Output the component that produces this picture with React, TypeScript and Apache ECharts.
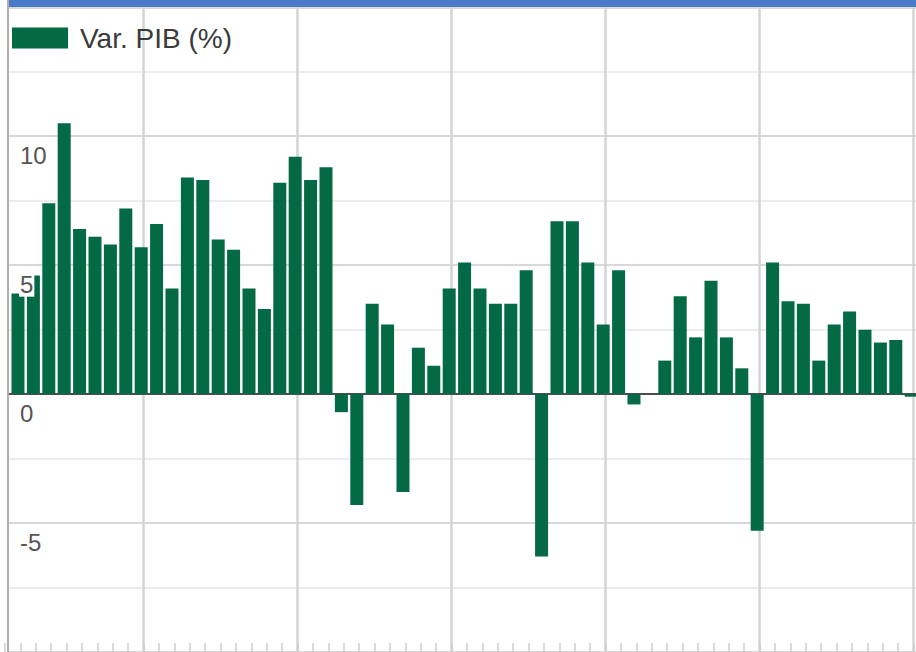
import React, { useEffect, useRef } from "react";
import * as echarts from "echarts";

// ---- data ----
const years = [
  1961, 1962, 1963, 1964, 1965, 1966, 1967, 1968, 1969, 1970,
  1971, 1972, 1973, 1974, 1975, 1976, 1977, 1978, 1979, 1980,
  1981, 1982, 1983, 1984, 1985, 1986, 1987, 1988, 1989, 1990,
  1991, 1992, 1993, 1994, 1995, 1996, 1997, 1998, 1999, 2000,
  2001, 2002, 2003, 2004, 2005, 2006, 2007, 2008, 2009, 2010,
  2011, 2012, 2013, 2014, 2015, 2016, 2017, 2018, 2019,
];
const gdpGrowth = [
  3.9, 4.6, 7.4, 10.5, 6.4, 6.1, 5.8, 7.2, 5.7, 6.6,
  4.1, 8.4, 8.3, 6.0, 5.6, 4.1, 3.3, 8.2, 9.2, 8.3,
  8.8, -0.7, -4.3, 3.5, 2.7, -3.8, 1.8, 1.1, 4.1, 5.1,
  4.1, 3.5, 3.5, 4.8, -6.3, 6.7, 6.7, 5.1, 2.7, 4.8,
  -0.4, 0.0, 1.3, 3.8, 2.2, 4.4, 2.2, 1.0, -5.3, 5.1,
  3.6, 3.5, 1.3, 2.7, 3.2, 2.5, 2.0, 2.1, -0.1,
];
const yTickLabels = ["-5", "0", "5", "10"];
const seriesName = "Var. PIB (%)";

// ---- axis ranges ----
const X_MIN = 1960;
const X_MAX = 2020;
const X_STEP = 10;
const Y_MIN = -10;
const Y_MAX = 15;
const Y_STEP = 5;

// ---- style ----
const FONT = "'Liberation Sans', Arial, Helvetica, sans-serif";
const BAR_COLOR = "#036a45";
const BAR_POS_OFFSET = 0.85;

export default function App() {
  const ref = useRef<HTMLDivElement>(null);

  useEffect(() => {
    if (!ref.current) return;
    const chart = echarts.init(ref.current, undefined, { renderer: "svg" });
    chart.setOption({
      animation: false,
      backgroundColor: "#ffffff",
      textStyle: { fontFamily: FONT },
      legend: {
        data: [seriesName],
        left: 12,
        top: 24,
        padding: 0,
        itemWidth: 56,
        itemHeight: 21,
        icon: "rect",
        textStyle: {
          fontFamily: FONT,
          fontSize: 28,
          color: "#3a3a3a",
          padding: [2, 0, 0, 7],
        },
      },
      graphic: [
        {
          type: "rect",
          x: 9,
          y: 0,
          shape: { width: 907, height: 7 },
          style: { fill: "#4a7bc8" },
          z: 20,
        },
        {
          type: "line",
          shape: { x1: 8, y1: 0, x2: 8, y2: 652 },
          style: { stroke: "#b3ada8", lineWidth: 2 },
          z: 20,
        },
      ],
      grid: [
        { left: -10.5, top: 7.3, width: 924, bottom: 0, outerBoundsMode: "none", containLabel: false },
        { left: 8, top: 7.3, right: 0, bottom: 0, outerBoundsMode: "none", containLabel: false },
      ],
      xAxis: [
        {
          gridIndex: 0,
          type: "value",
          min: X_MIN,
          max: X_MAX,
          interval: X_STEP,
          position: "bottom",
          axisLine: { show: false, onZero: false },
          axisTick: {
            show: true,
            inside: true,
            length: 9,
            lineStyle: { color: "#cdcdcd", width: 1.5 },
          },
          minorTick: {
            show: true,
            splitNumber: 10,
            length: 9,
            lineStyle: { color: "#cdcdcd", width: 1.5 },
          },
          axisLabel: { show: false },
          splitLine: { show: true, lineStyle: { color: "#d4d4d4", width: 2.5 } },
        },
        {
          gridIndex: 1,
          type: "value",
          min: 0,
          max: 1,
          position: "bottom",
          axisLine: { show: true, onZero: true, lineStyle: { color: "#4d4d4d", width: 2 } },
          axisTick: { show: false },
          axisLabel: { show: false },
          splitLine: { show: false },
        },
      ],
      yAxis: [
        { gridIndex: 0, type: "value", min: Y_MIN, max: Y_MAX, show: false },
        {
          gridIndex: 1,
          type: "value",
          position: "left",
          min: Y_MIN,
          max: Y_MAX,
          interval: Y_STEP,
          axisLine: { show: false },
          axisTick: { show: false },
          axisLabel: { show: false },
          splitLine: { show: true, lineStyle: { color: "#d8d8d8", width: 2 } },
          minorTick: { show: false, splitNumber: 2 },
          minorSplitLine: { show: true, lineStyle: { color: "#ececec", width: 2 } },
        },
        {
          gridIndex: 1,
          type: "value",
          position: "left",
          min: Y_MIN,
          max: Y_MAX,
          interval: Y_STEP,
          z: 5,
          axisLine: { show: false },
          axisTick: { show: false },
          splitLine: { show: false },
          axisLabel: {
            show: true,
            inside: true,
            margin: 11,
            verticalAlign: "top",
            padding: [10, 0, 0, 0],
            fontSize: 24,
            color: "#555555",
            fontFamily: FONT,
            formatter: (v: number) =>
              yTickLabels.includes(String(v)) ? `{n|${v}}` : "",
            rich: {
              n: {
                fontSize: 24,
                color: "#555555",
                fontFamily: FONT,
                backgroundColor: "#ffffff",
                padding: [0, 1, 0, 1],
                lineHeight: 19,
              },
            },
          },
        },
      ],
      series: [
        {
          name: seriesName,
          type: "bar",
          xAxisIndex: 0,
          yAxisIndex: 0,
          barWidth: 13,
          clip: false,
          itemStyle: { color: BAR_COLOR },
          data: years.map((y, i) => [y + BAR_POS_OFFSET, gdpGrowth[i]]),
        },
      ],
    });
    return () => chart.dispose();
  }, []);

  return (
    <div
      ref={ref}
      style={{
        position: "absolute",
        left: 0,
        top: 0,
        width: 916,
        height: 652,
        background: "#ffffff",
      }}
    />
  );
}
